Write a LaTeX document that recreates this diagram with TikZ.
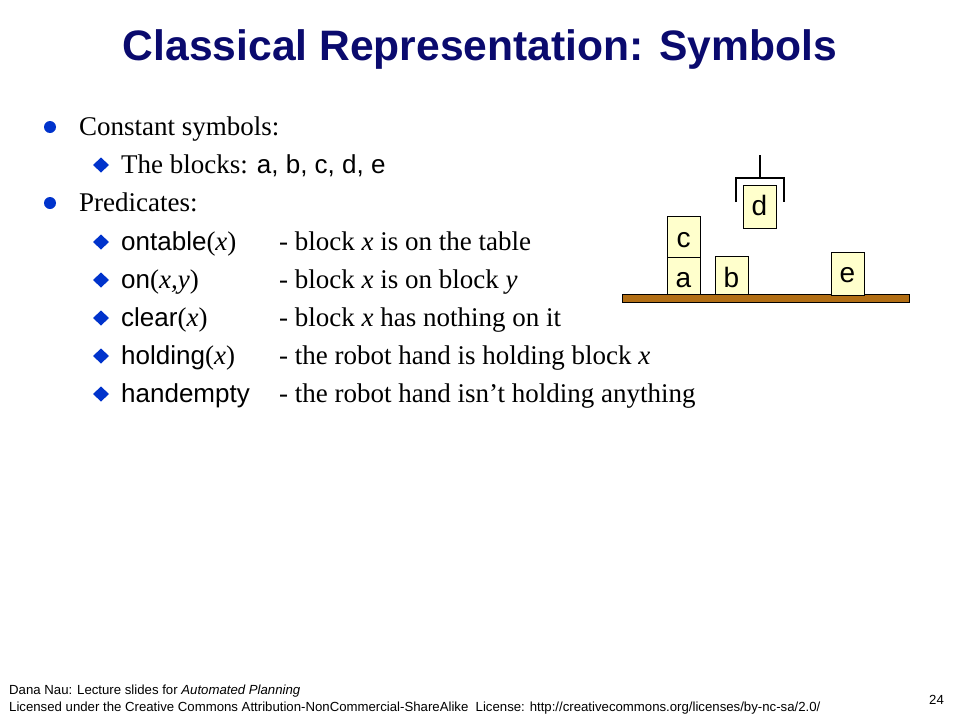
\documentclass[tikz,border=0pt]{standalone}
\usepackage{fontspec}
\setmainfont{Liberation Serif}
\setsansfont{Liberation Sans}
\definecolor{titleblue}{RGB}{10,10,110}
\definecolor{bulletblue}{RGB}{0,51,204}
\definecolor{tablebrown}{RGB}{178,110,20}
\definecolor{blockyellow}{RGB}{255,255,204}
\newcommand{\sz}[1]{\fontsize{#1}{#1}\selectfont}
\begin{document}
\begin{tikzpicture}[x=1pt,y=-1pt,
  txt/.style={anchor=base west, inner sep=0pt, font=\rmfamily\sz{27}},
  blk/.style={draw, fill=blockyellow, line width=0.7pt, inner sep=0pt, minimum width=33pt},
  lbl/.style={anchor=base, inner sep=0pt, font=\sffamily\sz{28}},
  dot/.style={fill=bulletblue, draw=none},
  foot/.style={anchor=base west, inner sep=0pt, font=\sffamily\sz{13.2}},
  grip/.style={line width=2.2pt}
]
\useasboundingbox (0,0) rectangle (960,720);
\fill[white] (0,0) rectangle (960,720);

% title
\node[anchor=base, inner sep=0pt, font=\sffamily\bfseries\sz{42.6}, text=titleblue] (title) at (480,60) {Classical Representation: Symbols};

% level-1 bullets
\fill[dot] (50,127) circle (6pt);
\fill[dot] (50,203) circle (6pt);
\node[txt] (l1) at (79,135) {Constant symbols:};
\node[txt] (l3) at (79,211) {Predicates:};

% level-2 bullets (diamonds)
\foreach \yy in {173,250,288,326,364,402}{
  \fill[dot] (101,\yy-15.5) -- (109,\yy-8) -- (101,\yy-0.5) -- (93,\yy-8) -- cycle;
}
\node[txt] (l2) at (121,173) {The blocks: {\sffamily\sz{26}a, b, c, d, e}};

\node[txt] (p1) at (121,250) {{\sffamily\sz{26}ontable}(\textit{x})};
\node[txt] (p2) at (121,288) {{\sffamily\sz{26}on}(\textit{x,y})};
\node[txt] (p3) at (121,326) {{\sffamily\sz{26}clear}(\textit{x})};
\node[txt] (p4) at (121,364) {{\sffamily\sz{26}holding}(\textit{x})};
\node[txt] (p5) at (121,402) {{\sffamily\sz{26}handempty}};

\node[txt] (d1) at (279,250) {- block \textit{x} is on the table};
\node[txt] (d2) at (279,288) {- block \textit{x} is on block \textit{y}};
\node[txt] (d3) at (279,326) {- block \textit{x} has nothing on it};
\node[txt] (d4) at (279,364) {- the robot hand is holding block \textit{x}};
\node[txt] (d5) at (279,402) {- the robot hand isn’t holding anything};

% blocks world
\node[draw, fill=tablebrown, line width=0.7pt, minimum width=287pt, minimum height=8pt, inner sep=0pt] (table) at (765.5,298) {};
\node[blk, minimum height=37pt] (a) at (683.5,275.5) {};
\node[blk, minimum height=41pt] (c) at (683.5,236.5) {};
\node[blk, minimum height=38pt] (b) at (731.5,275) {};
\node[blk, minimum height=43pt] (e) at (847.5,273.5) {};
\node[blk, minimum height=43pt] (d) at (759.5,206.5) {};
\node[lbl] (la) at (683.5,287) {a};
\node[lbl] (lc) at (683.5,247) {c};
\node[lbl] (lb) at (731.5,287) {b};
\node[lbl] (le) at (847.5,282) {e};
\node[lbl] (ld) at (759.5,215.5) {d};

% gripper
\coordinate (gtop) at (760,155);
\coordinate (gmid) at (760,178);
\draw[grip] (gtop) -- (gmid);
\draw[grip] (736,202) -- (736,178) -- (784,178) -- (784,202);

% footer
\node[foot] (f1) at (9,694) {Dana Nau: Lecture slides for \textit{Automated Planning}};
\node[foot] (f2) at (9,711) {Licensed under the Creative Commons Attribution-NonCommercial-ShareAlike\ \ License: http://creativecommons.org/licenses/by-nc-sa/2.0/};
\node[foot] (pg) at (929,704) {24};
\end{tikzpicture}
\end{document}
